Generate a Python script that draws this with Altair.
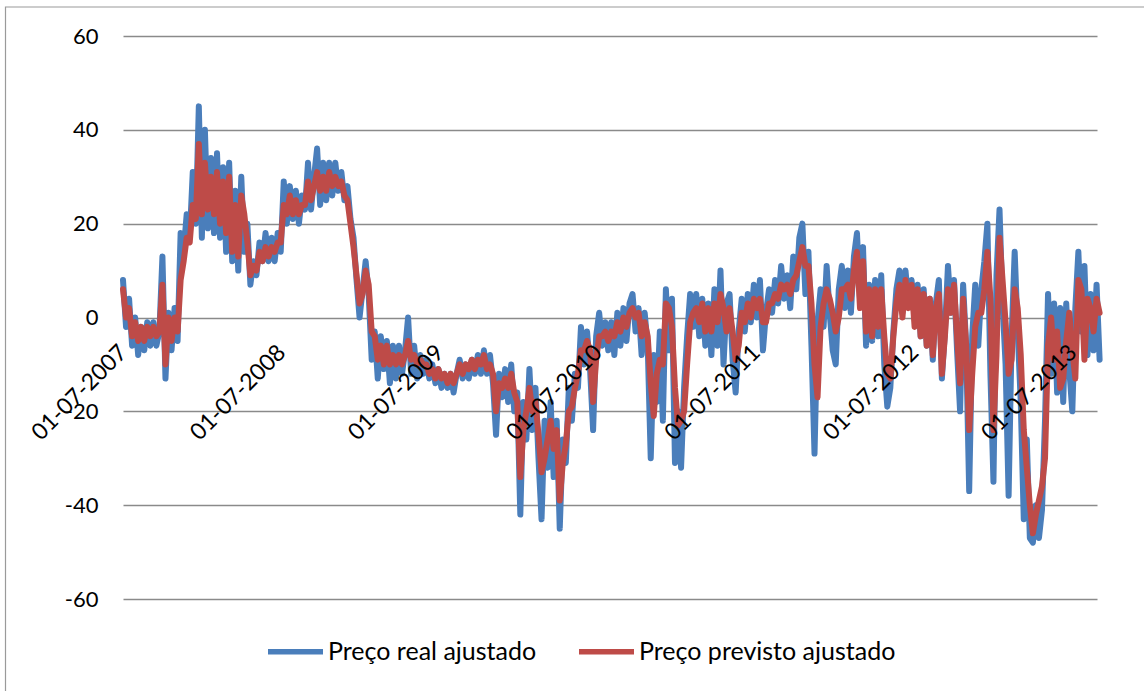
import altair as alt
import pandas as pd

# Weekly series, starting 1 July 2007
inicio = "2007-07-01"

preco_real = [
    8, -2, 4, -6, 0, -8, -2, -7, -1, -6,
    -1, -6, -3, 13, -13, 1, -7, 2, -5, 18,
    14, 22, 17, 31, 20, 45, 17, 40, 19, 34,
    18, 35, 17, 32, 14, 33, 12, 27, 10, 30,
    14, 20, 7, 12, 9, 16, 12, 18, 12, 17,
    12, 18, 14, 29, 20, 28, 21, 27, 20, 26,
    23, 33, 23, 30, 36, 24, 33, 25, 33, 26,
    33, 27, 31, 25, 28, 21, 17, 8, 0, 6,
    12, 5, -9, -3, -13, -4, -11, -5, -14, -6,
    -13, -6, -12, -7, 0, -12, -6, -13, -8, -12,
    -9, -13, -10, -14, -11, -15, -12, -15, -12, -16,
    -12, -9, -13, -10, -13, -9, -12, -8, -12, -7,
    -12, -8, -14, -25, -12, -17, -11, -18, -10, -20,
    -16, -42, -18, -26, -11, -24, -15, -30, -43, -22,
    -32, -18, -34, -22, -45, -26, -31, -15, -22, -12,
    -15, -2, -10, -3, -11, -24, -4, 1, -6, -1,
    -7, -1, -8, 1, -6, 2, -5, 3, 5, -3,
    2, -8, 1, -6, -30, -8, -18, -3, -22, 6,
    -7, 4, -31, -20, -32, -15, -4, 5, -2, 5,
    -4, 4, -6, 3, -8, 6, -6, 10, -10, 3,
    5, -9, -16, -3, 4, -3, 5, -1, 7, 0,
    8, -7, 1, 6, 1, 8, 3, 11, 4, 9,
    2, 13, 6, 17, 20, 5, 14, -6, -29, -1,
    6, -2, 11, 1, -7, -10, 6, 11, 2, 10,
    1, 13, 18, 4, 15, -6, 7, -5, 8, -4,
    9, -10, -19, -15, -3, 6, 10, 1, 10, 3,
    8, 1, 7, -4, 6, -6, 4, -9, 3, 8,
    -13, -3, 11, 1, 8, -7, -20, 7, -6, -37,
    -4, 7, -6, 6, 12, 20, -12, -35, 9, 23,
    3, -10, -38, -4, 14, -3, -18, -43, -26, -47,
    -48, -40, -47, -41, -22, 5, -12, 3, -16, 2,
    -18, 3, -11, -20, 2, 14, -3, 11, -8, 5,
    -7, 7, -9,
]

preco_previsto = [
    6, 0, 2, -4, -1, -5, -2, -5, -2, -4,
    -2, -4, -3, 7, -10, 0, -5, 0, -3, 8,
    12, 17, 16, 24, 21, 37, 22, 33, 23, 30,
    22, 31, 20, 29, 18, 30, 14, 24, 13, 26,
    22, 16, 9, 11, 10, 14, 12, 15, 13, 15,
    14, 16, 16, 24, 22, 26, 22, 25, 22, 24,
    24, 29, 25, 28, 31, 27, 30, 27, 31, 28,
    30, 28, 29, 26, 25, 20, 15, 9, 3, 5,
    10, 7, -3, -4, -9, -6, -10, -6, -10, -8,
    -10, -8, -10, -8, -5, -9, -8, -10, -9, -10,
    -10, -12, -11, -13, -11, -13, -12, -14, -12, -14,
    -12, -10, -12, -10, -11, -9, -11, -9, -10, -8,
    -11, -10, -12, -20, -14, -15, -13, -15, -12, -16,
    -18, -34, -24, -20, -15, -20, -18, -25, -33, -30,
    -26, -22, -28, -24, -39, -31, -27, -20, -19, -15,
    -12, -7, -7, -5, -7, -18, -9, -4, -4, -3,
    -5, -3, -4, -1, -3, 0, -2, 1, 2, 0,
    1, -4, -1, -4, -14, -21, -12, -9, -10, 3,
    2, -2, -15, -23, -22, -20, -10, -1, 1, 2,
    -1, 3, -3, 2, -3, 3, -1, 5, 2, -3,
    2, -3, -9, -6, 1, -1, 3, 0, 4, 2,
    4, -1, -1, 3, 3, 5, 4, 7, 6, 7,
    5, 8, 9, 12, 15, 11, 11, 3, -10, -17,
    -2, 3, 6, 4, 1, -3, 0, 6, 6, 7,
    4, 10, 14, 2, 12, -3, 6, -4, 6, -2,
    6, -4, -12, -13, -4, 3, 7, 0, 8, 2,
    7, -2, 6, -4, 5, -6, 4, -8, 2, 5,
    -12, -4, 6, 1, 7, -4, -14, 4, -6, -24,
    -12, -2, 1, 1, 6, 14, 4, -24, -8, 17,
    8, -1, -12, -9, 6, 2, -8, -24, -32, -40,
    -46, -42, -39, -36, -30, -6, 0, -9, -3, -15,
    -13, -5, 1, -7, -13, 8, 6, -9, 4, 2,
    -3, 4, 1,
]

anos_rotulo = [2007, 2008, 2009, 2010, 2011, 2012, 2013]
valores_y = [-60, -40, -20, 0, 20, 40, 60]

serie_real = "Preço real ajustado"
serie_prev = "Preço previsto ajustado"
cores = ["#4A7EBB", "#BE4B48"]

datas = pd.date_range(inicio, periods=len(preco_real), freq="7D").strftime("%Y-%m-%d")
df = pd.concat([
    pd.DataFrame({"data": datas, "serie": serie_real, "valor": preco_real}),
    pd.DataFrame({"data": datas, "serie": serie_prev, "valor": preco_previsto}),
])

W, H = 974, 563
FONTE = "Lato"

x_enc = alt.X(
    "data:T",
    title=None,
    scale=alt.Scale(
        type="utc",
        domain=[alt.DateTime(year=2007, month=7, date=1, utc=True),
                alt.DateTime(year=2013, month=8, date=26, utc=True)],
    ),
    axis=alt.Axis(
        values=[alt.DateTime(year=a, month=7, date=1, utc=True) for a in anos_rotulo],
        labelExpr="utcFormat(datum.value, '%d-%m-%Y')",
        labelAngle=-45, labelAlign="right", labelBaseline="middle",
        labelPadding=31, offset=-H / 2, zindex=1,
        domain=False, ticks=False, grid=False,
        labelFont=FONTE, labelFontSize=23, labelColor="black",
        labelOverlap=False, labelFlush=False, labelBound=False, labelLimit=400,
    ),
)
y_enc = alt.Y(
    "valor:Q",
    title=None,
    scale=alt.Scale(domain=[-60, 60], nice=False, zero=False),
    axis=alt.Axis(
        values=valores_y, grid=True, gridColor="#8A8A8A", gridWidth=1.6,
        domain=False, ticks=False, labelPadding=25,
        labelExpr="'' + datum.value",
        labelFont=FONTE, labelFontSize=22, labelColor="black",
    ),
)
cor_enc = alt.Color(
    "serie:N",
    scale=alt.Scale(domain=[serie_real, serie_prev], range=cores),
    legend=alt.Legend(
        orient="none", legendX=142, legendY=585, direction="horizontal",
        title=None, symbolType="stroke", symbolSize=3025, symbolStrokeWidth=5.5,
        labelFont=FONTE, labelFontSize=25, labelColor="black", labelLimit=500,
        labelOffset=2, columnPadding=31, padding=0,
    ),
)

linha = dict(strokeWidth=6, strokeCap="round", strokeJoin="round")

real = alt.Chart(df).transform_filter(alt.datum.serie == serie_real).mark_line(**linha).encode(
    x=x_enc, y=y_enc, color=cor_enc
)
previsto = alt.Chart(df).transform_filter(alt.datum.serie == serie_prev).mark_line(**linha).encode(
    x=x_enc, y=y_enc, color=cor_enc
)

# outer chart frame
moldura = alt.Chart(pd.DataFrame({"k": [0]})).mark_rect(
    filled=False, stroke="#9A9A9A", strokeWidth=1.2
).encode(
    x=alt.value(-117.5), y=alt.value(-29), x2=alt.value(1100), y2=alt.value(700)
)

chart = alt.layer(moldura, real, previsto).properties(
    width=W, height=H,
    autosize=alt.AutoSizeParams(type="none"),
    padding={"left": 123, "top": 36, "right": 47, "bottom": 92},
    background="white",
).configure_view(strokeWidth=0)

chart.save("out.html", embed_options={"renderer": "svg", "actions": False})
